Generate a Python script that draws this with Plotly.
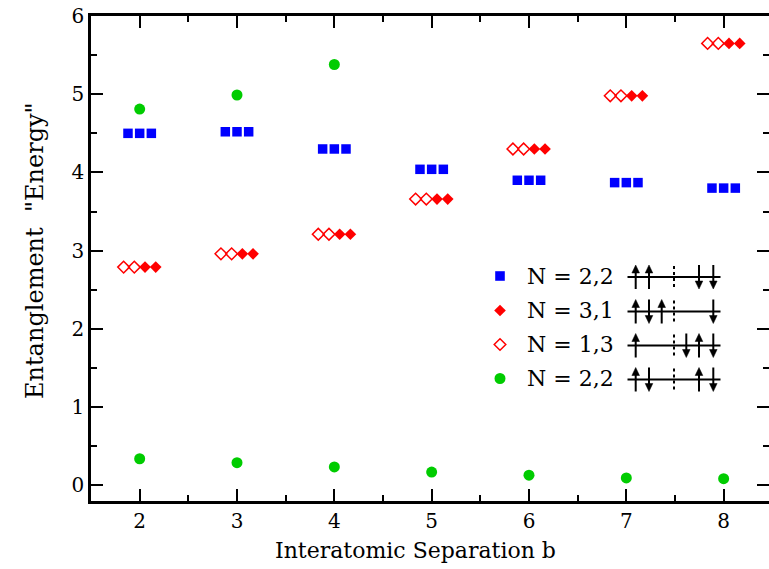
import plotly.graph_objects as go

# ---------------- data ----------------
separation_b = [2, 3, 4, 5, 6, 7, 8]
energy_22_up_down = [4.50, 4.52, 4.30, 4.04, 3.90, 3.87, 3.80]     # blue squares
energy_31 = [2.79, 2.96, 3.21, 3.66, 4.30, 4.98, 5.65]             # filled diamonds
energy_13 = [2.79, 2.96, 3.21, 3.66, 4.30, 4.98, 5.65]             # open diamonds
green_high_b = [2, 3, 4]
energy_22_mixed_high = [4.81, 4.99, 5.38]
energy_22_mixed_low = [0.34, 0.29, 0.235, 0.17, 0.13, 0.095, 0.085]
legend_labels = ["N = 2,2", "N = 3,1", "N = 1,3", "N = 2,2"]
x_ticks = [2, 3, 4, 5, 6, 7, 8]
y_ticks = [0, 1, 2, 3, 4, 5, 6]
x_title = "Interatomic Separation b"
y_title = 'Entanglement  "Energy"'

FONT = "DejaVu Serif"
W, H = 769, 569
L, R, T, B = 91, 0, 16, 68
XR = [1.5, 1.5 + (W - L - R) / 97.33]
YR = [-0.2, 6.0]

# marker offsets within each group (styling)
sq_off = [-0.12, 0.0, 0.12]
open_off = [-0.165, -0.055]
fill_off = [0.055, 0.165]

BLUE, RED, GREEN = "#0000ff", "#ff0000", "#00cc00"


def spread(xs, ys, offs):
    ox, oy = [], []
    for o in offs:
        for x, y in zip(xs, ys):
            ox.append(x + o)
            oy.append(y)
    return ox, oy


fig = go.Figure()
bx, by = spread(separation_b, energy_22_up_down, sq_off)
fig.add_trace(go.Scatter(x=bx, y=by, mode="markers", name=legend_labels[0],
                         marker=dict(symbol="square", size=9.5, color=BLUE)))
fx, fy = spread(separation_b, energy_31, fill_off)
fig.add_trace(go.Scatter(x=fx, y=fy, mode="markers", name=legend_labels[1],
                         marker=dict(symbol="diamond", size=9, color=RED)))
ox_, oy_ = spread(separation_b, energy_13, open_off)
fig.add_trace(go.Scatter(x=ox_, y=oy_, mode="markers", name=legend_labels[2],
                         marker=dict(symbol="diamond-open", size=9, color=RED,
                                     line=dict(width=1.5))))
gx = green_high_b + separation_b
gy = energy_22_mixed_high + energy_22_mixed_low
fig.add_trace(go.Scatter(x=gx, y=gy, mode="markers", name=legend_labels[3],
                         marker=dict(symbol="circle", size=11, color=GREEN)))


def px2x(px):
    return XR[0] + (px - L) * (XR[1] - XR[0]) / (W - L - R)


def py2y(py):
    return YR[1] - (py - T) * (YR[1] - YR[0]) / (H - T - B)


def px2paper(px):
    return (px - L) / (W - L - R)


def py2paper(py):
    return (H - B - py) / (H - T - B)


# ---------------- custom legend (symbols + text + spin diagrams) ----------------
row_cy = [276, 310.5, 344.5, 378.5]
shapes = []
annotations = []
sym_x = 500
for i, cy in enumerate(row_cy):
    if i == 0:
        s = 4.8
        shapes.append(dict(type="rect", xref="x", yref="y",
                           x0=px2x(sym_x - s), x1=px2x(sym_x + s), y0=py2y(cy - s), y1=py2y(cy + s),
                           fillcolor=BLUE, line=dict(width=0)))
    elif i in (1, 2):
        s = 5.8
        path = "M {} {} L {} {} L {} {} L {} {} Z".format(
            px2x(sym_x), py2y(cy - s), px2x(sym_x + s), py2y(cy),
            px2x(sym_x), py2y(cy + s), px2x(sym_x - s), py2y(cy))
        if i == 1:
            shapes.append(dict(type="path", xref="x", yref="y", path=path,
                               fillcolor=RED, line=dict(width=0)))
        else:
            shapes.append(dict(type="path", xref="x", yref="y", path=path,
                               fillcolor="rgba(0,0,0,0)", line=dict(color=RED, width=1.5)))
    else:
        s = 5.5
        shapes.append(dict(type="circle", xref="x", yref="y",
                           x0=px2x(sym_x - s), x1=px2x(sym_x + s), y0=py2y(cy - s), y1=py2y(cy + s),
                           fillcolor=GREEN, line=dict(width=0)))
    annotations.append(dict(xref="x", yref="y", x=px2x(525), y=py2y(cy), text=legend_labels[i],
                            showarrow=False, xanchor="left", yanchor="middle",
                            font=dict(family=FONT, size=22, color="black")))

ax_pos = {"A": 635.7, "B": 649, "C": 661.7, "D": 686.3, "E": 699, "F": 713.3}
rows = [
    [("A", 1), ("B", 1), ("E", -1), ("F", -1)],
    [("A", 1), ("B", -1), ("C", 1), ("F", -1)],
    [("A", 1), ("D", -1), ("E", 1), ("F", -1)],
    [("A", 1), ("B", -1), ("E", 1), ("F", -1)],
]
half = 12
head = 8
hw = 3.8
for cy0, arrows in zip(row_cy, rows):
    cy = cy0 + 1
    shapes.append(dict(type="line", xref="x", yref="y",
                       x0=px2x(627.5), x1=px2x(720.5), y0=py2y(cy), y1=py2y(cy),
                       line=dict(color="black", width=2)))
    shapes.append(dict(type="line", xref="x", yref="y",
                       x0=px2x(674), x1=px2x(674), y0=py2y(cy - half + 1), y1=py2y(cy + half - 1),
                       line=dict(color="black", width=2, dash="3px,3px")))
    for key, d in arrows:
        xp = ax_pos[key]
        tip = cy - half if d == 1 else cy + half
        tail = cy + half if d == 1 else cy - half
        base = tip + head * d
        shaft_end = tip + (head - 2) * d
        shapes.append(dict(type="line", xref="x", yref="y",
                           x0=px2x(xp), x1=px2x(xp), y0=py2y(tail), y1=py2y(shaft_end),
                           line=dict(color="black", width=2)))
        path = "M {} {} L {} {} L {} {} Z".format(
            px2x(xp), py2y(tip), px2x(xp - hw), py2y(base), px2x(xp + hw), py2y(base))
        shapes.append(dict(type="path", xref="x", yref="y", path=path,
                           fillcolor="black", line=dict(color="black", width=0.5)))

# axis titles placed as annotations for exact positioning
annotations.append(dict(xref="paper", yref="paper", x=px2paper(415), y=py2paper(550),
                        text=x_title, showarrow=False, xanchor="center", yanchor="middle",
                        font=dict(family=FONT, size=22, color="black")))
annotations.append(dict(xref="paper", yref="paper", x=px2paper(35), y=py2paper(251),
                        text=y_title, showarrow=False, xanchor="center", yanchor="middle",
                        textangle=-90, font=dict(family=FONT, size=24, color="black")))

axis_common = dict(
    showline=True, linecolor="black", linewidth=2.5, mirror="ticks",
    ticks="inside", ticklen=12, tickwidth=1.5, tickcolor="black",
    showgrid=False, zeroline=False, automargin=False,
    tickfont=dict(family=FONT, size=20, color="black"),
)

fig.update_layout(
    width=W, height=H,
    margin=dict(l=L, r=R, t=T, b=B),
    paper_bgcolor="white", plot_bgcolor="white",
    font=dict(family=FONT, color="black"),
    showlegend=False,
    shapes=shapes,
    annotations=annotations,
)
fig.update_xaxes(range=XR, tickvals=x_ticks, ticktext=[str(v) for v in x_ticks],
                 minor=dict(ticks="inside", ticklen=6, tickwidth=1.5, tickcolor="black", dtick=0.5, tick0=1.5),
                 **axis_common)
fig.update_yaxes(range=YR, tickvals=y_ticks, ticktext=[str(v) for v in y_ticks],
                 minor=dict(ticks="inside", ticklen=6, tickwidth=1.5, tickcolor="black", dtick=0.5, tick0=0),
                 **axis_common)

fig.write_html("out.html", config={"displayModeBar": False},
               post_script="document.body.style.margin='0';document.body.style.padding='0';"
                           "document.body.style.overflow='hidden';")
